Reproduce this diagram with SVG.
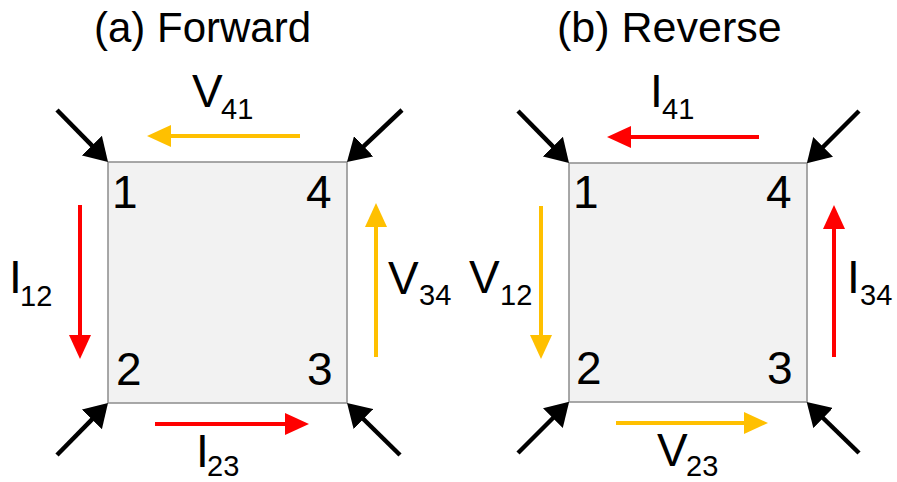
<svg xmlns="http://www.w3.org/2000/svg" width="897" height="482" viewBox="0 0 897 482">
<style>
.sq{fill:#f2f2f2;stroke:#8c8c8c;stroke-width:1.5}
text{font-family:"Liberation Sans",Arial,sans-serif;fill:#000}
.t{font-size:42px}
.n{font-size:46px}
.s{font-size:29px}
.blk{stroke:#000;stroke-width:4.5;fill:none;marker-end:url(#hb)}
.red{stroke:#ff0000;stroke-width:4;fill:none;marker-end:url(#hr)}
.org{stroke:#ffc000;stroke-width:4;fill:none;marker-end:url(#ho)}
</style>
<defs>
<marker id="hb" markerUnits="userSpaceOnUse" markerWidth="24" markerHeight="28" refX="3" refY="14" orient="auto"><path d="M0,0 L23,14 L0,28 z" fill="#000"/></marker>
<marker id="hr" markerUnits="userSpaceOnUse" markerWidth="24" markerHeight="22" refX="4" refY="11" orient="auto"><path d="M0,0 L24,11 L0,22 z" fill="#ff0000"/></marker>
<marker id="ho" markerUnits="userSpaceOnUse" markerWidth="24" markerHeight="22" refX="4" refY="11" orient="auto"><path d="M0,0 L24,11 L0,22 z" fill="#ffc000"/></marker>
</defs>
<rect width="897" height="482" fill="#fff"/>
<text class="t" x="94" y="42">(a) Forward</text>
<text class="t" x="557" y="42" style="font-size:43px">(b) Reverse</text>
<g id="forward-square">
<rect class="sq" x="108" y="162" width="239" height="241"/>
<text class="n" x="112" y="208">1</text>
<text class="n" x="306" y="208">4</text>
<text class="n" x="116" y="385">2</text>
<text class="n" x="307" y="385">3</text>
</g>
<g id="reverse-square">
<rect class="sq" x="569" y="163" width="238" height="239"/>
<text class="n" x="573" y="208">1</text>
<text class="n" x="766" y="208">4</text>
<text class="n" x="576" y="384">2</text>
<text class="n" x="767" y="384">3</text>
</g>
<g id="connectors">
<line class="blk" x1="57" y1="110" x2="94" y2="147.7"/>
<line class="blk" x1="402" y1="110" x2="361.5" y2="148.3"/>
<line class="blk" x1="57" y1="455" x2="94" y2="417.3"/>
<line class="blk" x1="400" y1="455" x2="361.3" y2="417"/>
<line class="blk" x1="518" y1="111" x2="555" y2="148.7"/>
<line class="blk" x1="859" y1="111" x2="821" y2="149"/>
<line class="blk" x1="518" y1="453" x2="555" y2="416"/>
<line class="blk" x1="859" y1="453" x2="821" y2="416"/>
<line class="org" x1="300" y1="136" x2="167" y2="136"/>
<line class="red" x1="80" y1="205" x2="80" y2="339"/>
<line class="red" x1="155" y1="424" x2="289" y2="424"/>
<line class="org" x1="376" y1="357" x2="376" y2="223"/>
<line class="red" x1="759" y1="137" x2="627" y2="137"/>
<line class="org" x1="541" y1="206" x2="541" y2="339"/>
<line class="org" x1="616" y1="423" x2="748" y2="423"/>
<line class="red" x1="834" y1="357" x2="834" y2="225"/>
</g>
<g id="labels">
<text class="n" x="192" y="107">V</text><text class="s" x="221" y="119">41</text>
<text class="n" x="9" y="293">I</text><text class="s" x="20" y="306">12</text>
<text class="n" x="196" y="467">I</text><text class="s" x="207" y="476">23</text>
<text class="n" x="388" y="294">V</text><text class="s" x="419" y="305">34</text>
<text class="n" x="650" y="107">I</text><text class="s" x="662" y="119">41</text>
<text class="n" x="469" y="293">V</text><text class="s" x="500" y="305">12</text>
<text class="n" x="657" y="466">V</text><text class="s" x="686" y="476">23</text>
<text class="n" x="847" y="293">I</text><text class="s" x="860" y="305">34</text>
</g>
</svg>
